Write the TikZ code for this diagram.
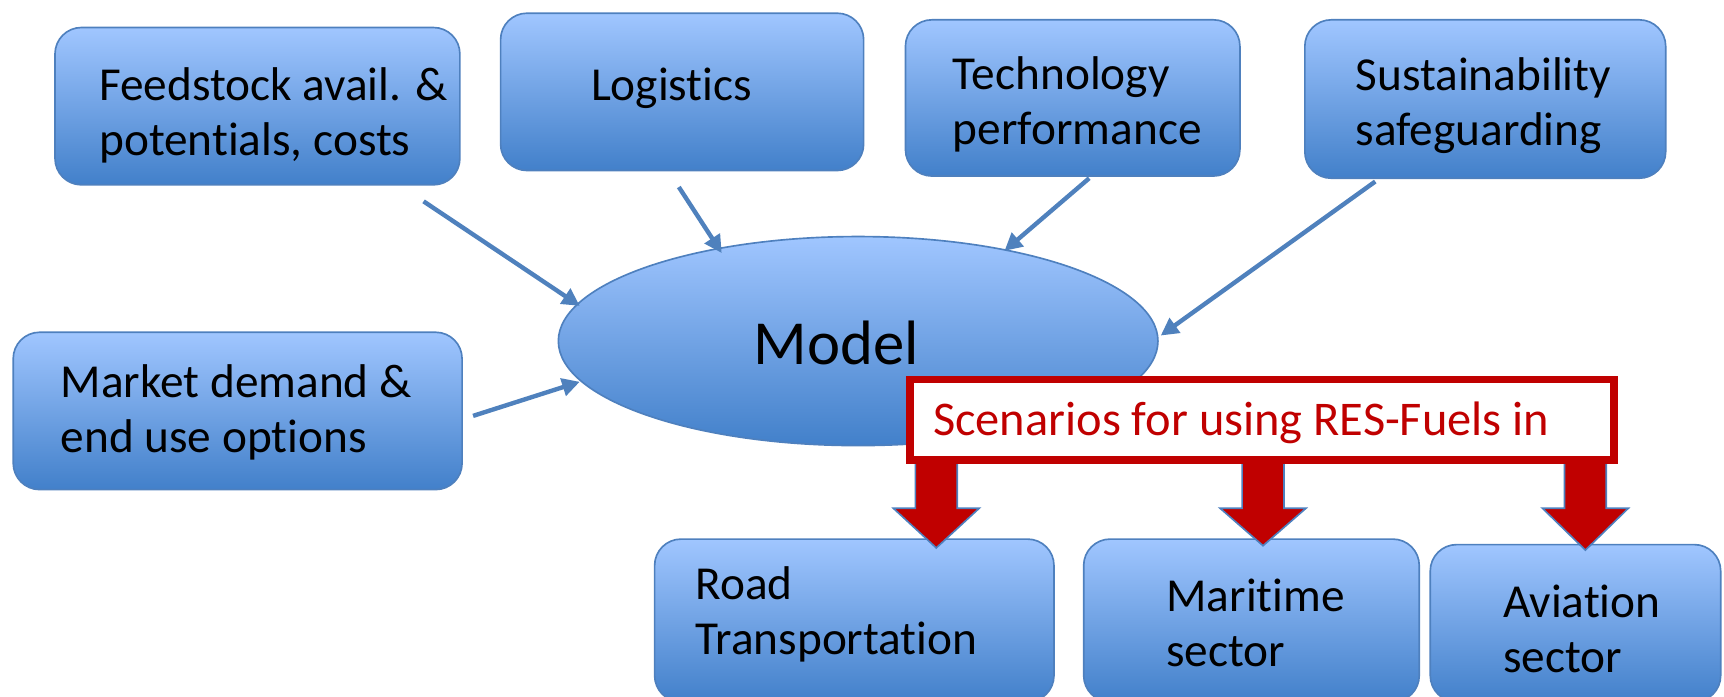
\documentclass[tikz,border=0pt]{standalone}
\usepackage{fontspec}
\setmainfont[Ligatures=NoCommon]{Carlito}
\usetikzlibrary{arrows.meta,shapes.geometric}
\definecolor{boxtop}{RGB}{160,198,255}
\definecolor{boxbot}{RGB}{66,128,202}
\definecolor{boxline}{RGB}{78,128,190}
\definecolor{arrowc}{RGB}{79,129,189}
\definecolor{redc}{RGB}{192,0,0}
\tikzset{
  bluebox/.style={draw=boxline, line width=1.5pt, rounded corners=24pt,
    top color=boxtop, bottom color=boxbot, inner sep=0pt},
  lbl/.style={font=\fontsize{43}{50}\selectfont, align=left, anchor=west, inner sep=0pt},
  inarrow/.style={draw=arrowc, line width=4pt, -{Triangle[length=16pt,width=16pt]}},
  blockarrow/.style={fill=redc, draw=boxline, line width=1.5pt, line join=miter},
}
\begin{document}
\begin{tikzpicture}[x=1pt,y=-1pt]
\useasboundingbox (0,0) rectangle (1567,633);
\clip (0,0) rectangle (1567,633);

% input boxes
\node[bluebox, minimum width=368pt, minimum height=143pt] (feed) at (234,96.5) {};
\node[lbl] (feedt) at (90,105) {Feedstock avail. \&\\potentials, costs};
\node[bluebox, minimum width=330pt, minimum height=143pt] (logi) at (620,83.5) {};
\node[lbl] (logit) at (537,80) {Logistics};
\node[bluebox, minimum width=304pt, minimum height=142pt] (tech) at (975,89) {};
\node[lbl] (techt) at (866,95) {Technology\\performance};
\node[bluebox, minimum width=328pt, minimum height=144pt] (sust) at (1350,90) {};
\node[lbl] (sustt) at (1232,96) {Sustainability\\safeguarding};
\node[bluebox, minimum width=408pt, minimum height=143pt] (mark) at (216,373.5) {};
\node[lbl] (markt) at (55,375) {Market demand \&\\end use options};

% model
\node[draw=boxline, line width=1.5pt, ellipse, top color=boxtop, bottom color=boxbot,
  minimum width=545pt, minimum height=190pt, inner sep=0pt] (model) at (780,310) {};
\node[font=\fontsize{57}{60}\selectfont, inner sep=0pt] (modelt) at (760,312) {Model};

% input arrows
\coordinate (s1) at (385,183); \coordinate (e1) at (527,278);
\coordinate (s2) at (617,170); \coordinate (e2) at (656,230);
\coordinate (s3) at (990,162); \coordinate (e3) at (913,228);
\coordinate (s4) at (1250,165); \coordinate (e4) at (1055,305);
\coordinate (s5) at (430,378); \coordinate (e5) at (527,347);
\draw[inarrow] (s1) -- (e1);
\draw[inarrow] (s2) -- (e2);
\draw[inarrow] (s3) -- (e3);
\draw[inarrow] (s4) -- (e4);
\draw[inarrow] (s5) -- (e5);

% output boxes
\node[bluebox, minimum width=363pt, minimum height=148pt] (road) at (776.5,564) {};
\node[lbl] (roadt) at (632,558) {Road\\Transportation};
\node[bluebox, minimum width=305pt, minimum height=148pt] (mari) at (1137.5,564) {};
\node[lbl] (marit) at (1060,566) {Maritime\\sector};
\node[bluebox, minimum width=264pt, minimum height=143pt] (avia) at (1432,566.5) {};
\node[lbl] (aviat) at (1366,572) {Aviation\\sector};

% red block arrows
\foreach \cx/\tip in {851/498, 1148/496, 1441/500}{
  \draw[blockarrow] (\cx-19,400) -- (\cx-19,462) -- (\cx-39,462) -- (\cx,\tip)
    -- (\cx+39,462) -- (\cx+19,462) -- (\cx+19,400) -- cycle;
}

% scenario box
\node[draw=redc, line width=7pt, fill=white, minimum width=640pt, minimum height=73pt,
  inner sep=0pt] (scen) at (1147,381.5) {};
\node[lbl, text=redc, font=\fontsize{44}{50}\selectfont] (scent) at (848,384) {Scenarios for using RES-Fuels in};
\end{tikzpicture}
\end{document}
